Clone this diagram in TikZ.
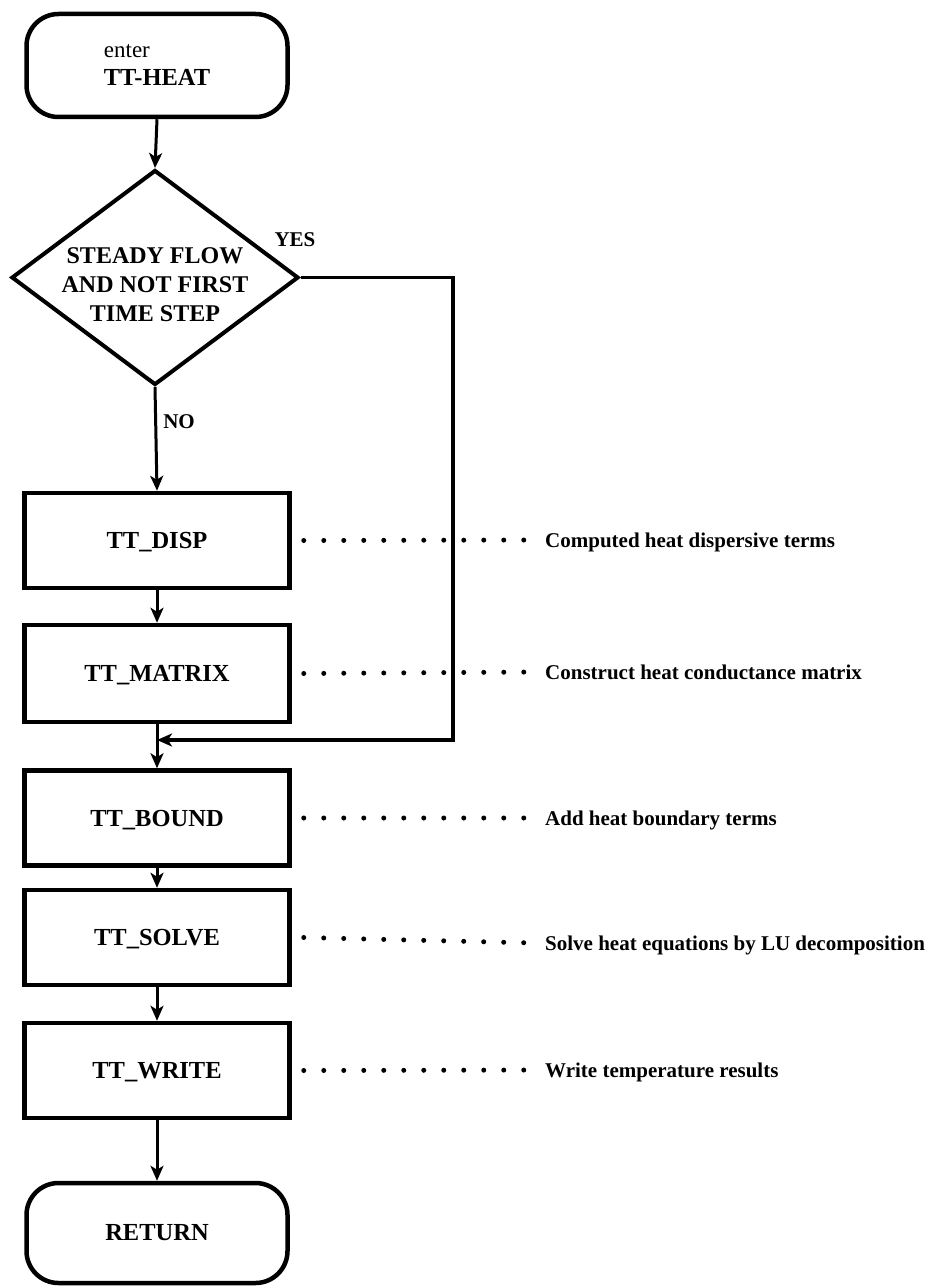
\documentclass[tikz,border=0pt]{standalone}
\usepackage{fontspec}
\setmainfont{Liberation Serif}
\usetikzlibrary{shapes.geometric,arrows.meta}
\begin{document}
\begin{tikzpicture}[x=1pt,y=-1pt,
  procbox/.style={draw,line width=4.5pt,minimum width=265pt,minimum height=95pt,inner sep=0pt,
    font=\fontsize{24.5}{28}\selectfont\bfseries,text height=16.5pt,text depth=0pt},
  termbox/.style={draw,line width=4.5pt,rounded corners=32pt,minimum width=261pt,minimum height=103pt,inner sep=0pt,
    font=\fontsize{24.5}{28}\selectfont\bfseries},
  decbox/.style={draw,diamond,line width=4pt,minimum width=287pt,minimum height=215pt,inner sep=0pt},
  dectxt/.style={font=\fontsize{24}{29}\selectfont\bfseries,align=center,inner sep=0pt},
  lbl/.style={font=\fontsize{21}{25}\selectfont\bfseries,inner sep=0pt},
  sidetext/.style={anchor=west,inner sep=0pt,font=\fontsize{21}{25}\selectfont\bfseries,text height=14pt,text depth=0pt},
  flow/.style={line width=3pt,-{Stealth[length=15pt,width=13pt,inset=4pt]}},
  loopline/.style={line width=3.5pt,-{Stealth[length=15pt,width=13pt,inset=4pt]}},
  dots/.style={line width=5pt,line cap=round,dash pattern=on 0pt off 20pt}
]
\useasboundingbox (0,0) rectangle (929,1287);

\node[termbox,align=left] (start) at (157,65.5) {{\fontsize{23}{28}\selectfont\mdseries enter}\\TT-HEAT};
\node[decbox] (dec) at (155,277.5) {};
\node[dectxt] (dectext) at (155,285) {STEADY FLOW\\AND NOT FIRST\\TIME STEP};
\node[lbl] (yes) at (295,240) {YES};
\node[lbl] (no) at (179,422) {NO};

\node[procbox] (disp) at (157,540.5) {TT\_DISP};
\node[procbox,minimum height=97pt] (matrix) at (157,673.5) {TT\_MATRIX};
\node[procbox] (bound) at (157,818) {TT\_BOUND};
\node[procbox] (solve) at (157,937.5) {TT\_SOLVE};
\node[procbox] (write) at (157,1070.5) {TT\_WRITE};
\node[termbox,minimum height=100pt] (ret) at (157,1233) {RETURN};

\node[sidetext] (c1) at (545,540) {Computed heat dispersive terms};
\node[sidetext] (c2) at (545,672) {Construct heat conductance matrix};
\node[sidetext] (c3) at (545,818) {Add heat boundary terms};
\node[sidetext] (c4) at (545,943) {Solve heat equations by LU decomposition};
\node[sidetext] (c5) at (545,1070) {Write temperature results};

\coordinate (rc) at (453,740);
\coordinate (join) at (157,740);

\draw[flow] (start.south) -- (dec.north);
\draw[flow] (dec.south) -- (disp.north);
\draw[flow] (disp.south) -- (matrix.north);
\draw[flow] (matrix.south) -- (bound.north);
\draw[flow] (bound.south) -- (solve.north);
\draw[flow] (solve.south) -- (write.north);
\draw[flow] (write.south) -- (ret.north);
\draw[loopline] (dec.east) -| (rc) -- (join);

\foreach \b/\t in {disp/c1,matrix/c2,bound/c3,solve/c4,write/c5}
  \draw[dots] ([xshift=12pt]\b.east) -- ([xshift=-10pt]\t.west);
\end{tikzpicture}
\end{document}
